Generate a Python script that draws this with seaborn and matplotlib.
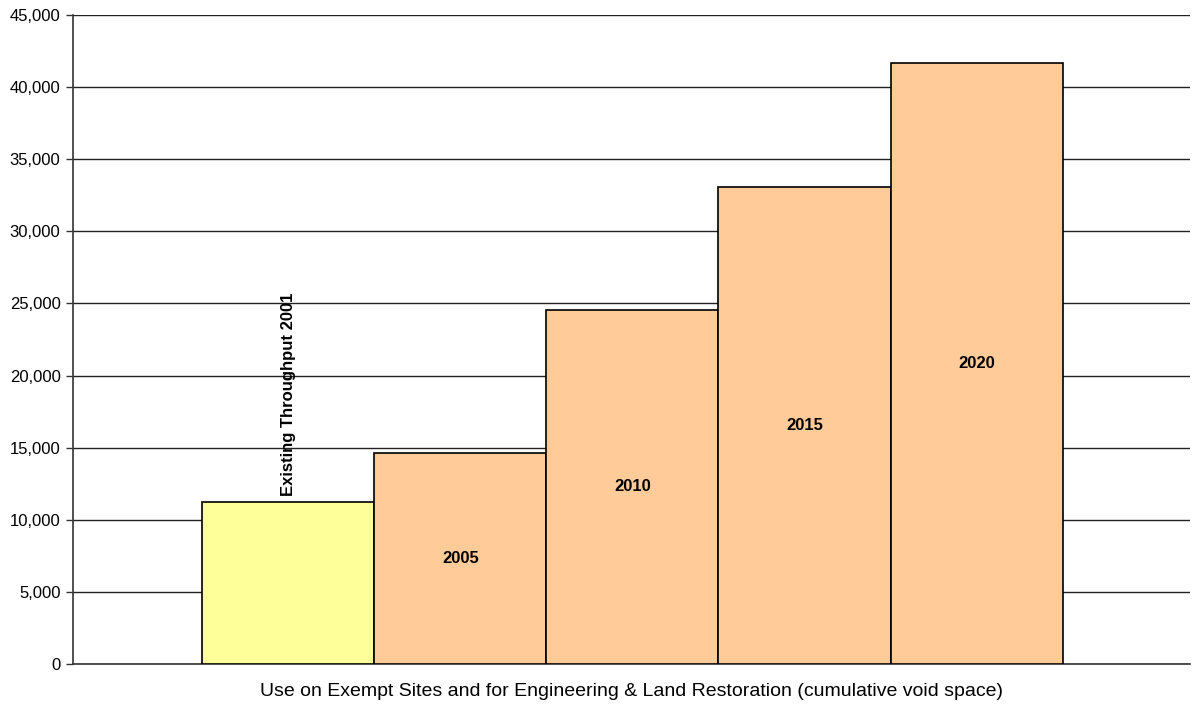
import numpy as np
import pandas as pd
import seaborn as sns
from matplotlib import pyplot as plt
from matplotlib.ticker import FuncFormatter

categories = ['Existing Throughput 2001', '2005', '2010', '2015', '2020']
values = [11200, 14600, 24550, 33100, 41650]
bar_colors = ['#FFFF99', '#FFCC99', '#FFCC99', '#FFCC99', '#FFCC99']
yticks = np.arange(0, 45001, 5000)
xlabel = 'Use on Exempt Sites and for Engineering & Land Restoration (cumulative void space)'

df = pd.DataFrame({'cat': categories, 'val': values})

sns.set_style('white')
plt.rcParams['font.family'] = ['Liberation Sans', 'DejaVu Sans']
plt.rcParams['text.color'] = 'black'
plt.rcParams['axes.labelcolor'] = 'black'
plt.rcParams['ytick.color'] = 'black'

fig = plt.figure(figsize=(11.93, 7.07), dpi=100)
ax = fig.add_axes([0.0612, 0.0608, 0.9363, 0.918])

sns.barplot(data=df, x='cat', y='val', hue='cat', palette=bar_colors, legend=False,
            width=1.0, edgecolor='black', linewidth=1.2, saturation=1, zorder=3, ax=ax)

for i, cont in enumerate(ax.containers):
    if i == 0:
        ax.bar_label(cont, labels=[categories[i]], rotation=90, padding=5,
                     fontsize=12, fontweight='bold', zorder=4)
    else:
        ax.bar_label(cont, labels=[categories[i]], label_type='center',
                     fontsize=12, fontweight='bold', zorder=4)

ax.set_xlim(-1.25, 5.24)
ax.set_ylim(0, 45000)
ax.set_yticks(yticks)
ax.yaxis.set_major_formatter(FuncFormatter(lambda v, p: f'{int(v):,}'))
ax.tick_params(axis='y', labelsize=12, length=5, width=1, color='#333333', left=True, pad=4)
ax.set_xticks([])
ax.grid(axis='y', color='#222222', lw=1, zorder=0)
ax.set_axisbelow(True)
for s in ['top', 'right']:
    ax.spines[s].set_visible(False)
for s in ['left', 'bottom']:
    ax.spines[s].set_color('#333333')
    ax.spines[s].set_linewidth(1.2)
ax.set_ylabel('')
ax.set_xlabel(xlabel, fontsize=14, labelpad=14)

fig.savefig('out.png', dpi=100)
